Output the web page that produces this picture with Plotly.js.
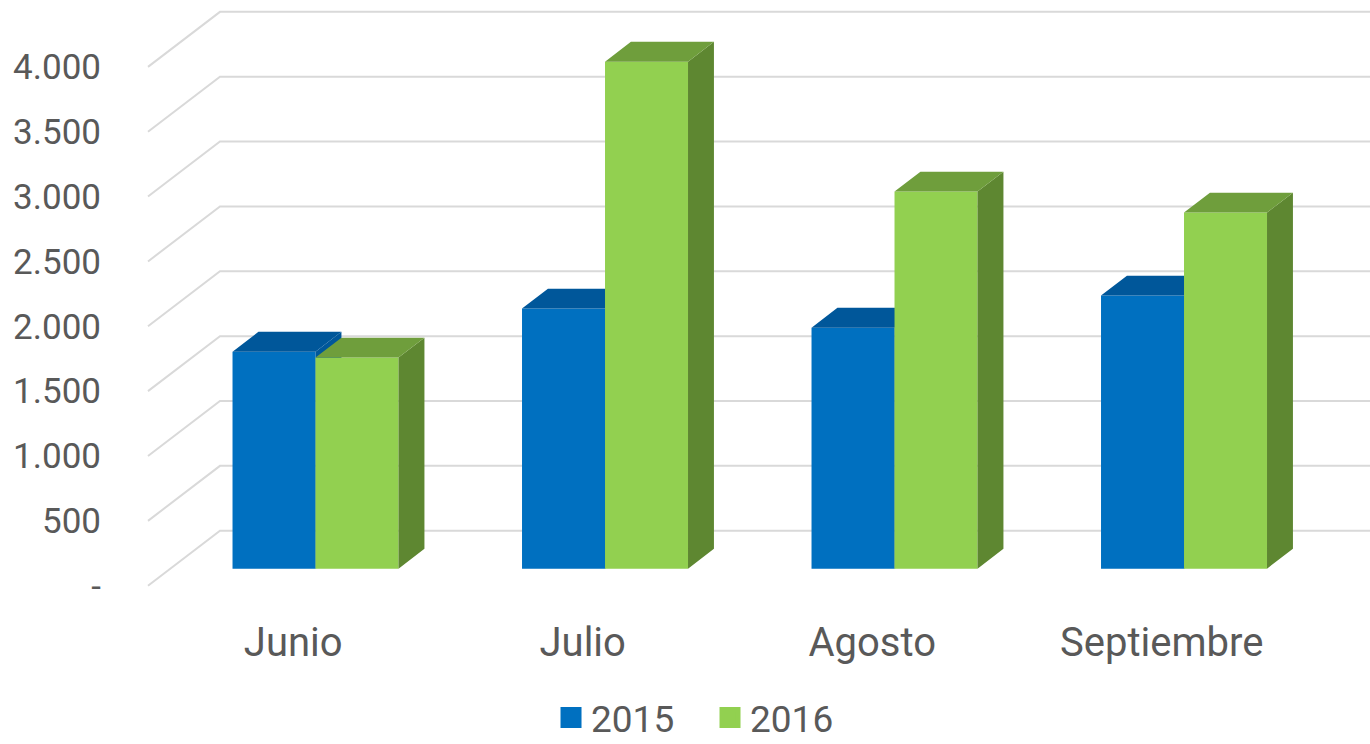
<!DOCTYPE html>
<html>
<head>
<meta charset="utf-8">
<script src="https://cdn.plot.ly/plotly-3.0.1.min.js"></script>
<style>html,body{margin:0;padding:0;background:#fff;}#chart{width:1370px;height:744px;}</style>
</head>
<body>
<div id="chart"></div>
<script>
// ---- data ----
var months = ['Junio', 'Julio', 'Agosto', 'Septiembre'];
var values2015 = [1673, 2005, 1858, 2105];
var values2016 = [1627, 3909, 2907, 2745];
var seriesNames = ['2015', '2016'];
var yTickVals = [0, 500, 1000, 1500, 2000, 2500, 3000, 3500, 4000];
var yTickText = ['-', '500', '1.000', '1.500', '2.000', '2.500', '3.000', '3.500', '4.000'];

// ---- 3D (oblique) geometry, in axis units ----
var DX = 0.2487;     // full depth, x units
var DY = 424;        // full depth, y units
var D0 = 0.31, D1 = 0.67; // bar depth span
var W = 0.2867;      // bar width (category units)
var WALL_X = -0.5016;
var X_MAX = 3.7195;

var colors = {
  '2015': {front: '#0070C0', top: '#00579A', side: '#00579A'},
  '2016': {front: '#92D050', top: '#6F9E3C', side: '#5E8731'}
};

var traces = [];

// gridlines: side wall diagonal + back wall horizontal
var gx = [], gy = [];
yTickVals.forEach(function (t) {
  gx.push(WALL_X, WALL_X + DX, X_MAX, null);
  gy.push(t, t + DY, t + DY, null);
});
traces.push({type: 'scatter', mode: 'lines', x: gx, y: gy, line: {color: '#d9d9d9', width: 2},
  hoverinfo: 'skip', showlegend: false, cliponaxis: false});

function faces(vals, s) {
  var f = {x: [], y: []}, tp = {x: [], y: []}, sd = {x: [], y: []};
  vals.forEach(function (v, i) {
    var xl = i + (s - 1) * W, xr = i + s * W;
    var a = D0 * DX, b = D1 * DX, ya = D0 * DY, yb = D1 * DY;
    f.x.push(xl + a, xr + a, xr + a, xl + a, null);
    f.y.push(ya, ya, v + ya, v + ya, null);
    tp.x.push(xl + a, xr + a, xr + b, xl + b, null);
    tp.y.push(v + ya, v + ya, v + yb, v + yb, null);
    sd.x.push(xr + a, xr + b, xr + b, xr + a, null);
    sd.y.push(ya, yb, v + yb, v + ya, null);
  });
  return {front: f, top: tp, side: sd};
}

[values2015, values2016].forEach(function (vals, s) {
  var name = seriesNames[s];
  var fc = faces(vals, s);
  ['front', 'side', 'top'].forEach(function (k) {
    traces.push({type: 'scatter', mode: 'lines', x: fc[k].x, y: fc[k].y, fill: 'toself',
      fillcolor: colors[name][k], line: {width: 0, color: colors[name][k]},
      hoverinfo: 'skip', showlegend: false, name: name});
  });
});

// legend entries
seriesNames.forEach(function (name) {
  traces.push({type: 'scatter', mode: 'markers', x: [null], y: [null], name: name,
    marker: {symbol: 'square', size: 16, color: colors[name].front, line: {width: 5, color: colors[name].front}},
    showlegend: true, hoverinfo: 'skip'});
});

var font = 'Roboto, "Noto Sans", sans-serif';
var layout = {
  width: 1370, height: 744,
  margin: {l: 140, r: 0, t: 5, b: 149},
  paper_bgcolor: '#ffffff', plot_bgcolor: '#ffffff',
  showlegend: true,
  hovermode: false,
  font: {family: font, color: '#595959'},
  xaxis: {range: [-0.5292, X_MAX], tickvals: [0, 1, 2, 3], ticktext: months,
    showgrid: false, zeroline: false, showline: false, ticks: 'outside', ticklen: 12,
    tickcolor: 'rgba(0,0,0,0)', tickfont: {family: font, size: 40, color: '#595959'}, fixedrange: true},
  yaxis: {range: [-71.7, 4477], tickvals: yTickVals, ticktext: yTickText,
    showgrid: false, zeroline: false, showline: false, ticks: 'outside', ticklen: 31,
    tickcolor: 'rgba(0,0,0,0)', tickfont: {family: font, size: 35, color: '#595959'}, fixedrange: true},
  legend: {orientation: 'h', xref: 'container', yref: 'container', x: 0.4022, xanchor: 'left',
    y: 0.035, yanchor: 'middle', entrywidth: 114, entrywidthmode: 'pixels',
    font: {family: font, size: 37, color: '#595959'},
    bgcolor: 'rgba(0,0,0,0)', traceorder: 'normal'}
};

Plotly.newPlot('chart', traces, layout, {displayModeBar: false, staticPlot: true});
</script>
</body>
</html>
